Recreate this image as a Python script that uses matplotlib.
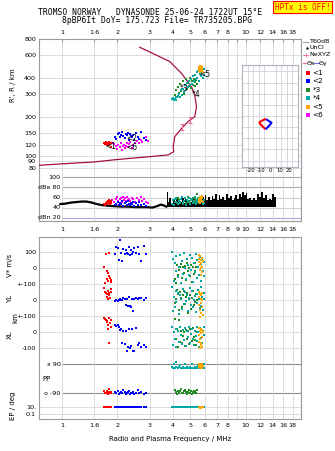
import numpy as np
import matplotlib
matplotlib.use("Agg")
import matplotlib.pyplot as plt
from matplotlib.ticker import FixedLocator, FixedFormatter, NullLocator

# ---------------- data ----------------
freq_ticks = [1, 1.5, 2, 3, 4, 5, 6, 7, 8, 9, 10, 12, 14, 16, 18]
freq_labels = ["1", "1.6", "2", "3", "4", "5", "6", "7", "8", "", "10", "12", "14", "16", "18"]
freq_labels_mid = ["1", "1.6", "2", "3", "4", "5", "6", "7", "8", "9", "10", "12", "14", "16", "18"]
range_ticks = [80, 90, 100, 120, 150, 200, 300, 400, 600, 800]
dbe_ticks = [100, 80, 60, 40, 20]
dbe_labels = ["100", "dBe 80", "60", "40", "dBn 20"]

# NeXYZ profile (frequency MHz, real height km)
ne_f = [0.75, 0.975, 1.48, 1.98, 3.01, 3.78, 4.06, 4.03, 4.11, 4.56, 4.96, 5.28, 5.40, 5.28, 5.07, 4.76, 4.47, 3.86, 3.01, 2.65]
ne_h = [84, 86, 89, 93, 98, 101, 107, 117, 140, 167, 188, 200, 239, 294, 341, 385, 434, 535, 634, 690]
ne_err_f = [4.5, 4.96]
ne_err_h = [167, 188]
ne_err_dh = [9, 10]

# noise floor and unclassified echo amplitude (dB)
noise_f = [0.98, 1.05, 1.12, 1.2, 1.28, 1.36, 1.45, 1.55, 1.65, 1.75, 1.9, 2.1, 2.3, 2.5, 2.7, 2.9, 3.1, 3.3, 3.45, 3.6, 3.7]
noise_db = [47, 48, 50, 51, 52, 52, 50, 47, 45, 44, 43, 42, 42, 41, 41, 41, 40, 43, 46, 44, 42]
uncl_f = [3.72, 3.76, 3.80, 3.86, 3.95, 4.05, 4.15, 4.25, 4.35, 4.45, 4.55, 4.65, 4.75, 4.85, 4.95,
          5.05, 5.15, 5.25, 5.35, 5.45, 5.55, 5.65, 5.75, 5.85, 5.95, 6.05, 6.15, 6.3, 6.45, 6.6,
          6.75, 6.9, 7.05, 7.2, 7.35, 7.5, 7.7, 7.9, 8.1, 8.3, 8.5, 8.7, 8.9, 9.1, 9.3,
          9.5, 9.7, 9.9, 10.1, 10.3, 10.5, 10.8, 11.1, 11.4, 11.7, 12.0, 12.3, 12.6, 12.9, 13.2,
          13.5, 13.8, 14.1, 14.4, 14.7]
uncl_top = [45, 70, 52, 60, 48, 56, 50, 58, 54, 52, 59, 50, 57, 53, 55,
            51, 58, 54, 56, 52, 60, 63, 55, 62, 58, 64, 55, 61, 56, 63,
            57, 66, 55, 64, 58, 62, 56, 67, 59, 63, 55, 60, 65, 58, 67,
            62, 70, 64, 68, 57, 60, 56, 59, 55, 66, 62, 70, 60, 64, 56,
            58, 55, 67, 62, 66]
uncl_floor = 41

# echo groups: frequency, range, amplitude, V*, YL, XL, polarisation, EP
red_f = [1.70, 1.72, 1.73, 1.75, 1.76, 1.77, 1.78, 1.80, 1.81, 1.82, 1.84, 1.86]
red_r = [125, 122, 127, 124, 120, 126, 123, 128, 121, 125, 117, 124]
red_db = [48, 46, 50, 52, 47, 53, 49, 55, 51, 48, 54, 50]
red_v = [10, -94, 88, -20, -68, -80, -32, 94, -50, -60, -75, -88]
red_yl = [79, 54, 48, 40, 23, 6, 60, 30, 45, 15, 70, 50]
red_xl = [92, 83, 77, 71, 67, 46, 19, -69, 88, 60, 30, 75]
red_pp = [-80, -88, -92, -75, -85, -90, -95, -86, -66, -90, -84, -88]
red_ep = [10, 9, 11, 10, 8, 10, 12, 9, 10, 11, 8, 10]

blue_f = [1.95, 1.98, 2.02, 2.05, 2.08, 2.10, 2.13, 2.16, 2.19, 2.22, 2.25, 2.28,
          2.31, 2.34, 2.37, 2.40, 2.43, 2.47, 2.52, 2.58, 2.64, 2.70, 2.78, 2.88]
blue_r = [140, 135, 146, 150, 138, 144, 152, 142, 136, 148, 145, 150,
          133, 147, 141, 138, 144, 132, 150, 139, 135, 152, 137, 133]
blue_db = [46, 48, 52, 45, 50, 47, 53, 44, 49, 51, 46, 54,
           48, 45, 50, 47, 52, 44, 49, 46, 51, 45, 48, 44]
blue_v = [87, 130, 129, 52, 177, 97, 48, 119, 90, 114, 94, 87,
          131, 81, 114, 87, 100, 125, 94, 135, 90, 46, 140, 87]
blue_yl = [-2, 0, -4, 2, 6, -1, 4, 12, 8, -29, 10, -35,
           19, -38, -45, 6, -65, 10, 17, 8, 14, 17, 3, 17]
blue_xl = [46, 40, 46, 30, 15, 20, -65, 5, -72, 10, -120, -90,
           21, -100, -85, 21, -117, -115, 25, -80, -69, -95, -79, -90]
blue_pp = [-85, -90, -75, -95, -88, -82, -92, -70, -86, -98, -90, -84,
           -78, -94, -88, -91, -83, -96, -87, -72, -90, -86, -93, -88]
blue_ep = [10, 9, 11, 10, 10, 12, 9, 10, 11, 10, 9, 10,
           11, 10, 10, 9, 12, 10, 10, 11, 9, 10, 10, 11]

mag_f = [1.88, 1.92, 1.96, 2.0, 2.03, 2.06, 2.09, 2.12, 2.15, 2.18, 2.21, 2.24, 2.27,
         2.30, 2.33, 2.36, 2.40, 2.45, 2.50, 2.56, 2.62, 2.68, 2.74, 2.80, 2.87, 2.95]
mag_r = [126, 122, 118, 112, 120, 116, 124, 110, 118, 121, 114, 119, 125,
         117, 122, 128, 115, 120, 126, 130, 124, 133, 128, 136, 140, 129]
mag_db = [55, 52, 58, 61, 54, 57, 60, 52, 62, 56, 59, 53, 61,
          55, 58, 54, 60, 57, 52, 59, 55, 61, 54, 57, 52, 50]

green_f = [4.10, 4.15, 4.22, 4.28, 4.33, 4.40, 4.45, 4.50, 4.56, 4.62, 4.68, 4.74,
           4.80, 4.86, 4.92, 4.98, 5.04, 5.10, 5.16, 5.22, 5.28, 5.33, 5.38, 5.42]
green_r = [295, 320, 285, 340, 305, 360, 315, 330, 375, 300, 350, 390,
           325, 365, 345, 400, 335, 380, 355, 395, 370, 345, 385, 360]
green_db = [52, 58, 49, 60, 55, 51, 57, 62, 48, 54, 59, 50,
            56, 61, 53, 49, 58, 55, 60, 52, 57, 50, 54, 67]
green_v = [-70, -90, 20, -40, -10, 5, 25, -60, 10, -30, 15, -75,
           30, -20, 0, -50, 20, -85, 10, -35, 33, -15, 5, -60]
green_yl = [-19, 10, 64, 40, -60, 50, 12, -40, 30, 60, -25, 20,
            45, -80, 5, 35, -55, 15, 58, -30, 25, -10, 40, 0]
green_xl = [80, -40, 20, -90, 75, -60, 10, -70, -25, 0, -85, 15,
            -45, 5, -75, 20, -10, -55, 25, -30, -50, 10, -80, 0]
green_pp = [-70, -85, -95, -75, -90, -80, -65, -88, -92, -78, -72, -86,
            -94, -82, -68, -90, -76, -98, -84, -74, -88, -80, -92, -70]
green_ep = [10, 11, 9, 10, 10, 12, 10, 9, 11, 10, 10, 9,
            11, 10, 12, 10, 9, 10, 11, 10, 10, 9, 11, 10]

cyan_f = [3.95, 4.00, 4.05, 4.10, 4.15, 4.20, 4.26, 4.32, 4.38, 4.44, 4.50, 4.56,
          4.62, 4.68, 4.74, 4.80, 4.86, 4.92, 4.98, 5.04, 5.10, 5.16, 5.22, 5.28,
          5.34, 5.40, 5.46, 5.52, 5.58, 5.63, 5.68, 5.73, 5.78, 5.84, 5.90, 5.96]
cyan_r = [272, 280, 268, 275, 285, 270, 290, 300, 285, 320, 295, 330,
          310, 350, 330, 365, 340, 380, 355, 395, 360, 410, 375, 420,
          390, 440, 400, 450, 380, 430, 460, 410, 445, 400, 470, 420]
cyan_db = [48, 55, 45, 58, 52, 60, 47, 54, 50, 57, 62, 49,
           53, 59, 46, 56, 51, 60, 48, 55, 58, 50, 53, 61,
           47, 56, 52, 59, 49, 54, 57, 51, 60, 48, 55, 50]
cyan_v = [100, 60, -80, 30, -20, 75, -55, 10, 85, -92, 45, -35,
          95, 0, -70, 55, 20, -45, 80, -10, 65, -88, 35, -25,
          90, -60, 50, 5, -40, 70, -80, 25, 60, -15, -50, 40]
cyan_yl = [85, -70, 20, -40, 60, -10, 45, -85, 30, 10, -55, 70,
           -25, 50, -5, 35, -65, 15, 75, -30, 55, -45, 0, 25,
           -75, 40, -20, 65, 5, -50, 80, -35, 20, -60, 10, 45]
cyan_xl = [30, -80, 0, -40, 20, -90, 10, -60, 35, -20, -75, 15,
           -50, 25, -85, 5, -30, 30, -65, -10, 20, -45, -80, 10,
           -25, 35, -55, 0, -90, 25, -35, 15, -70, 5, -15, 30]
cyan_pp = [70, 68, 90, 65, 72, 105, 66, 70, 88, 67, 64, 71,
           69, 92, 66, 70, 68, 65, 72, 67, 90, 69, 66, 70,
           68, 64, 71, 88, 67, 70, 65, 68, 72, 66, 90, 69]
cyan_ep = [10, 11, 9, 10, 10, 12, 10, 9, 11, 10, 10, 9,
           11, 10, 12, 10, 9, 10, 11, 10, 10, 9, 11, 10,
           10, 12, 10, 9, 11, 10, 10, 9, 11, 10, 12, 10]

orange_f = [5.55, 5.58, 5.60, 5.62, 5.64, 5.66, 5.68, 5.70, 5.72, 5.74, 5.76, 5.79, 5.82, 5.85]
orange_r = [470, 485, 455, 490, 475, 440, 495, 465, 480, 450, 488, 460, 478, 445]
orange_db = [52, 58, 55, 62, 50, 60, 57, 53, 61, 56, 59, 54, 63, 51]
orange_v = [83, 60, 40, 20, -10, 75, 50, 0, -42, 30, 65, 10, -25, 45]
orange_yl = [54, 20, -30, -102, 40, -60, 10, -80, 30, -15, 45, -45, 0, -90]
orange_xl = [27, -20, -60, -98, 10, -40, 20, -80, -5, -65, 15, -30, -90, 0]
orange_pp = [88, 70, 92, 68, 85, 72, 90, 66, 75, 88, 70, 92, 68, 80]
orange_ep = [9, 7, 10, 6, 8, 11, 7, 9, 6, 10, 8, 7, 9, 8]

# tilt (deg)
tilt_x_x = [-4.1, -5.6, -8.4, -11.3, -10.5, -7.7, -4.8]
tilt_x_y = [-3.5, -3.5, -5.0, -6.8, -8.6, -11.5, -14.3]
tilt_y_x = [-4.1, -1.3, 1.6, -0.2, -3.0, -4.8]
tilt_y_y = [-3.5, -5.4, -7.2, -9.7, -12.6, -14.3]

groups = [
    ("<6", "#ff00ff", mag_f, mag_r, mag_db, None),
    ("<2", "#0000ff", blue_f, blue_r, blue_db, (blue_v, blue_yl, blue_xl, blue_pp, blue_ep)),
    ("<1", "#ff0000", red_f, red_r, red_db, (red_v, red_yl, red_xl, red_pp, red_ep)),
    ("*3", "#1f8c1f", green_f, green_r, green_db, (green_v, green_yl, green_xl, green_pp, green_ep)),
    ("*4", "#00a8a8", cyan_f, cyan_r, cyan_db, (cyan_v, cyan_yl, cyan_xl, cyan_pp, cyan_ep)),
    ("<5", "#ffa500", orange_f, orange_r, orange_db, (orange_v, orange_yl, orange_xl, orange_pp, orange_ep)),
]
# label offsets (points) relative to the median echo of each group
label_offset = {"<1": (2.5, -2), "<2": (2.5, -2), "<6": (2.5, -2),
                "*3": (-1.5, -2), "*4": (5, -8), "<5": (3, -4)}
legend_order = ["<1", "<2", "*3", "*4", "<5", "<6"]

# ---------------- figure ----------------
W, H = 335, 451
fig = plt.figure(figsize=(W / 100, H / 100), dpi=100)
FS = 4.6
FRAME = "#9a9a9a"
GRID = "#d6d6d6"


def rect(x0, y0, x1, y1):
    return [x0 / W, 1 - y1 / H, (x1 - x0) / W, (y1 - y0) / H]


def ftext(x, y, s, **kw):
    fig.text(x / W, 1 - y / H, s, **kw)


def freq_axis(a, labels, top=False, bottom=False, pad=1.5):
    a.set_xscale("log")
    a.set_xlim(0.75, 20)
    a.xaxis.set_major_locator(FixedLocator(freq_ticks))
    a.xaxis.set_major_formatter(FixedFormatter(labels))
    a.xaxis.set_minor_locator(NullLocator())
    a.tick_params(axis="x", which="both", direction="in", length=2, color=FRAME,
                  labelsize=FS, pad=pad, top=top, bottom=bottom,
                  labeltop=top, labelbottom=bottom)
    a.grid(True, axis="x", color=GRID, lw=0.6)
    for s in a.spines.values():
        s.set_color(FRAME)
        s.set_linewidth(0.8)


# --- range panel
ax = fig.add_axes(rect(39, 38.5, 301, 172))
ax.set_yscale("log")
ax.set_ylim(74.5, 807)
freq_axis(ax, freq_labels, top=True, pad=2.2)
ax.yaxis.set_major_locator(FixedLocator(range_ticks))
ax.yaxis.set_major_formatter(FixedFormatter([str(t) for t in range_ticks]))
ax.yaxis.set_minor_locator(NullLocator())
ax.tick_params(axis="y", which="both", length=0, labelsize=FS, pad=2)
ax.grid(True, axis="y", color=GRID, lw=0.6)
ax.spines["bottom"].set_visible(False)

ax.plot(ne_f, ne_h, color="#a3123f", lw=0.9, zorder=3)
ax.errorbar(ne_err_f, ne_err_h, yerr=ne_err_dh, fmt="none", ecolor="#f07090",
            elinewidth=0.8, capsize=1.2, capthick=0.8, zorder=4)
for lab, col, f, r, db, low in groups:
    ax.scatter(f, r, s=4, marker="s", color=col, linewidths=0, zorder=5)
for lab, col, f, r, db, low in groups:
    ax.annotate(lab, (np.median(f), np.median(r)), xytext=label_offset[lab],
                textcoords="offset points", fontsize=5.5, color="black",
                ha="center", va="center", zorder=6)

# --- tilt inset
axi = fig.add_axes(rect(242, 65, 298, 167))
axi.set_xlim(-30, 30)
axi.set_ylim(-55, 55)
axi.set_xticks([-20, -10, 0, 10, 20])
axi.set_xticklabels(["-20", "-10", "0", "10", "20"])
axi.set_xticks(np.arange(-30, 31, 6), minor=True)
axi.set_yticks(np.arange(-48, 49, 12))
axi.tick_params(axis="both", which="both", length=0, labelsize=3.8, pad=1, labelleft=False)
axi.grid(True, which="minor", axis="x", color="#c8c8d0", lw=0.5)
axi.grid(True, which="major", axis="y", color="#c8c8d0", lw=0.5)
axi.set_xlabel("Tilt / deg", fontsize=3.8, labelpad=0)
for s in axi.spines.values():
    s.set_color("#b0b0c0")
    s.set_linewidth(0.8)
axi.plot(tilt_x_x, tilt_x_y, color="#ff0000", lw=1.5, solid_capstyle="butt")
axi.plot(tilt_y_x, tilt_y_y, color="#0000ff", lw=1.5, solid_capstyle="butt")

# --- amplitude panel
axd = fig.add_axes(rect(39, 172, 301, 221))
axd.set_ylim(13.5, 110.5)
freq_axis(axd, freq_labels_mid, bottom=True, pad=4.2)
axd.tick_params(axis="x", length=0)
axd.set_yticks([])
axd.spines["top"].set_visible(False)
line_cols = ["#a8a8a8", "#a8a8a8", "#cfcfcf", "#cfcfcf", "#a8a8e8"]
for y, c, lab in zip(dbe_ticks, line_cols, dbe_labels):
    axd.hlines(y, 1.0, 20, color=c, lw=0.8, zorder=1)
    axd.text(0.985, y, lab, ha="right", va="center", fontsize=FS)
axd.plot(noise_f, noise_db, color="black", lw=1.6, zorder=3)
axd.fill_between(uncl_f, uncl_floor, uncl_top, step="mid", color="black", lw=0, zorder=3)
for lab, col, f, r, db, low in groups:
    axd.scatter(f, db, s=4, marker="s", color=col, linewidths=0, zorder=5)

# --- V*, YL, XL, PP, EP panel (stacked bands on one axis)
def yl_y(v):
    return np.asarray(v) - 200


def xl_y(v):
    return np.asarray(v) - 400


def pp_y(v):
    return np.asarray(v) - 690


def ep_y(v):
    return -888 + 22 * np.log10(np.asarray(v, dtype=float))


axl = fig.add_axes(rect(39, 237, 301, 419.3))
axl.set_ylim(-943.75, 195.6)
freq_axis(axl, freq_labels, bottom=True, pad=2.5)
axl.tick_params(axis="x", length=0)
light = [100, 0, -100, -200, -300, -400, -500, float(ep_y(10)), float(ep_y(0.1))]
for y in light:
    axl.axhline(y, color=GRID, lw=0.6, zorder=1)
for y in [float(pp_y(90)), float(pp_y(-90))]:
    axl.axhline(y, xmin=(63 - 39) / 262, color="#8a8a8a", lw=0.8, zorder=1)
axl.set_yticks(light)
axl.set_yticklabels(["100", "0", "+-100", "0", "+-100", "0", "-100", "10.", "0.1"])
axl.tick_params(axis="y", length=0, labelsize=FS, pad=2)
axl.text(0.985, float(pp_y(90)), "x 90", ha="right", va="center", fontsize=FS)
axl.text(0.985, float(pp_y(-90)), "o -90", ha="right", va="center", fontsize=FS)

for lab, col, f, r, db, low in groups:
    if low is None:
        continue
    v, yl, xl, pp, ep = low
    for yy in (np.asarray(v), yl_y(yl), xl_y(xl), pp_y(pp), ep_y(ep)):
        axl.scatter(f, yy, s=4, marker="s", color=col, linewidths=0, zorder=5)

# --- legend column on the right
axg = fig.add_axes(rect(301, 35, 335, 120))
axg.set_xlim(301, 335)
axg.set_ylim(120, 35)
axg.axis("off")
axg.plot([303, 308], [41.7, 41.7], color="#a0a0a0", lw=0.8)
axg.text(309.3, 41.7, "T60dB", fontsize=FS, va="center")
axg.plot([306.5], [47.5], marker=".", color="black", ms=1.5)
axg.text(310, 47.5, "UnCl", fontsize=FS, va="center")
axg.plot([303, 308], [55, 55], color="#f07090", lw=0.6)
axg.plot([305.5], [55], marker="+", color="#f07090", ms=3, mew=0.6)
axg.text(309.3, 55, "NeXYZ", fontsize=FS, va="center")
axg.plot([302.5, 306], [63.3, 63.3], color="#f07090", lw=0.8)
axg.text(306.3, 63.3, "\u0398x", fontsize=FS, va="center")
axg.plot([314, 318.5], [63.3, 63.3], color="#7070ff", lw=0.8)
axg.text(318.8, 63.3, "\u0398y", fontsize=FS, va="center")
legend_y = [73.3, 80.7, 90, 98.3, 106.7, 115]
colmap = {g[0]: g[1] for g in groups}
for lab, y in zip(legend_order, legend_y):
    axg.scatter([308], [y], s=7, marker="s", color=colmap[lab], linewidths=0)
    axg.text(312.5, y, lab, fontsize=5.2, va="center")

# --- header and labels
ftext(150, 12.7, "TROMSO NORWAY   DYNASONDE 25-06-24 1722UT 15\u00b0E",
      family="DejaVu Sans Mono", fontsize=5.8, ha="center", va="center")
ftext(157.5, 20.3, "8pBP6It DoY= 175.723 File= TR735205.BPG",
      family="DejaVu Sans Mono", fontsize=5.8, ha="center", va="center")
ftext(302.5, 7, "HPTx is OFF!", family="DejaVu Sans Mono", fontsize=5.6, color="red",
      ha="center", va="center",
      bbox=dict(boxstyle="square,pad=0.2", fc="yellow", ec="red", lw=0.8))

ftext(13, 85, "R', R / km", rotation=90, fontsize=5, ha="center", va="center")
ftext(10, 265, "V* m/s", rotation=90, fontsize=5, ha="center", va="center")
ftext(10, 299, "YL", rotation=90, fontsize=5, ha="center", va="center")
ftext(15, 318, "km", rotation=90, fontsize=5, ha="center", va="center")
ftext(10, 335, "XL", rotation=90, fontsize=5, ha="center", va="center")
ftext(46.5, 379, "PP", fontsize=5, ha="center", va="center")
ftext(13, 406, "EP / deg", rotation=90, fontsize=5, ha="center", va="center")
ftext(170, 439, "Radio and Plasma Frequency / MHz", fontsize=5, ha="center", va="center")

fig.savefig("out.png", dpi=100)
